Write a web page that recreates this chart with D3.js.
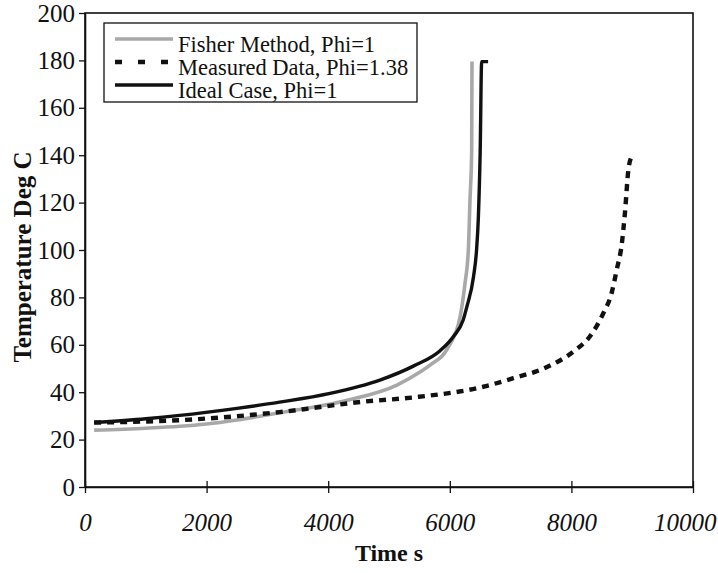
<!DOCTYPE html>
<html>
<head>
<meta charset="utf-8">
<script src="https://cdn.jsdelivr.net/npm/d3@7"></script>
<style>
  html, body { margin: 0; padding: 0; background: #fff; }
  svg { display: block; }
  text { font-family: "Liberation Serif", "Times New Roman", serif; fill: #111; }
</style>
</head>
<body>
<svg id="chart" width="718" height="573"></svg>
<script>
// ---- data (time s, temperature deg C) ----
const fisherTime = [150, 1000, 1560, 2000, 2500, 3200, 4300, 5130, 5510, 5680, 5975, 6170, 6250, 6305, 6332, 6360, 6365];
const fisherTemp = [24.0, 24.8, 25.6, 26.6, 28.3, 31.3, 36.5, 43.0, 48.5, 51.5, 59.0, 71.9, 85.9, 100, 121, 142, 179.5];

const measuredTime = [150, 1560, 3200, 4580, 5400, 6550, 7045, 7590, 8030, 8300, 8525, 8660, 8745, 8830, 8880, 8937, 8990];
const measuredTemp = [27.2, 28.2, 31.6, 36.0, 37.8, 42.3, 45.9, 50.5, 57.1, 63.4, 73.3, 81.7, 91.6, 102.8, 115.5, 133.8, 139.4];

const idealTime = [150, 1000, 1560, 2500, 3200, 4030, 4850, 5400, 5840, 6060, 6220, 6280, 6390, 6440, 6470, 6500, 6524, 6630];
const idealTemp = [27.2, 28.8, 30.2, 33.2, 35.8, 39.5, 45.1, 51.0, 57.5, 63.5, 70.5, 76.0, 88.7, 100, 114, 142, 179.5, 179.5];

const xTicks = [0, 2000, 4000, 6000, 8000, 10000];
const yTicks = [0, 20, 40, 60, 80, 100, 120, 140, 160, 180, 200];
const seriesNames = ["Fisher Method, Phi=1", "Measured Data, Phi=1.38", "Ideal Case, Phi=1"];

// ---- layout ----
const svg = d3.select("#chart");
const L = 85, R = 693, T = 13, B = 487;
const x = d3.scaleLinear().domain([0, 10000]).range([L, R]);
const y = d3.scaleLinear().domain([0, 200]).range([B, T]);

// frame
svg.append("rect").attr("x", L).attr("y", T).attr("width", R - L).attr("height", B - T)
  .attr("fill", "none").attr("stroke", "#111").attr("stroke-width", 1.6);

// x axis
const gx = svg.append("g").attr("transform", `translate(0,${B})`)
  .call(d3.axisBottom(x).tickValues(xTicks).tickFormat(d3.format("d")).tickSizeInner(6).tickSizeOuter(0).tickPadding(20));
gx.select(".domain").attr("stroke", "#111").attr("stroke-width", 1.6);
gx.selectAll(".tick line").attr("y1", -6).attr("stroke", "#111").attr("stroke-width", 1.3);
gx.selectAll(".tick text").attr("font-size", 25).attr("font-style", "italic")
  .attr("font-family", "Liberation Serif, Times New Roman, serif").attr("fill", "#111");
// last label pulled inside the window, as in the original
gx.selectAll(".tick text").filter(d => d === 10000).attr("text-anchor", "end").attr("x", 716 - x(10000));

// y axis
const gy = svg.append("g").attr("transform", `translate(${L},0)`)
  .call(d3.axisLeft(y).tickValues(yTicks).tickFormat(d3.format("d")).tickSizeInner(6).tickSizeOuter(0).tickPadding(4));
gy.select(".domain").attr("stroke", "#111").attr("stroke-width", 1.6);
gy.selectAll(".tick line").attr("stroke", "#111").attr("stroke-width", 1.3);
gy.selectAll(".tick text").attr("font-size", 25)
  .attr("font-family", "Liberation Serif, Times New Roman, serif").attr("fill", "#111");

// axis titles
svg.append("text").attr("x", (L + R) / 2).attr("y", 561).attr("text-anchor", "middle")
  .attr("font-size", 24).attr("font-weight", "bold").text("Time s");
svg.append("text").attr("transform", `translate(31,257) rotate(-90)`)
  .attr("text-anchor", "middle").attr("font-size", 25).attr("font-weight", "bold").text("Temperature Deg C");

// lines
const line = d3.line().x(d => x(d[0])).y(d => y(d[1])).curve(d3.curveMonotoneX);
const zip = (a, b) => a.map((v, i) => [v, b[i]]);

const styles = [
  { color: "#a8a8a8", width: 3.6, dash: null, legendDash: null },
  { color: "#111", width: 4.4, dash: "7,6", legendDash: "7,16" },
  { color: "#111", width: 3.4, dash: null, legendDash: null }
];
const series = [zip(fisherTime, fisherTemp), zip(measuredTime, measuredTemp), zip(idealTime, idealTemp)];

series.forEach((s, i) => {
  svg.append("path").datum(s).attr("d", line).attr("fill", "none")
    .attr("stroke", styles[i].color).attr("stroke-width", styles[i].width)
    .attr("stroke-dasharray", styles[i].dash);
});

// legend
const lg = svg.append("g");
lg.append("rect").attr("x", 104).attr("y", 23).attr("width", 313).attr("height", 79)
  .attr("fill", "#fff").attr("stroke", "#111").attr("stroke-width", 1.3);
const rowY = [39, 62, 85];
seriesNames.forEach((name, i) => {
  lg.append("line").attr("x1", 115).attr("x2", 173).attr("y1", rowY[i]).attr("y2", rowY[i])
    .attr("stroke", styles[i].color).attr("stroke-width", styles[i].width)
    .attr("stroke-dasharray", styles[i].legendDash);
  lg.append("text").attr("x", 178).attr("y", rowY[i] + 13).attr("font-size", 22.5).text(name);
});
</script>
</body>
</html>
